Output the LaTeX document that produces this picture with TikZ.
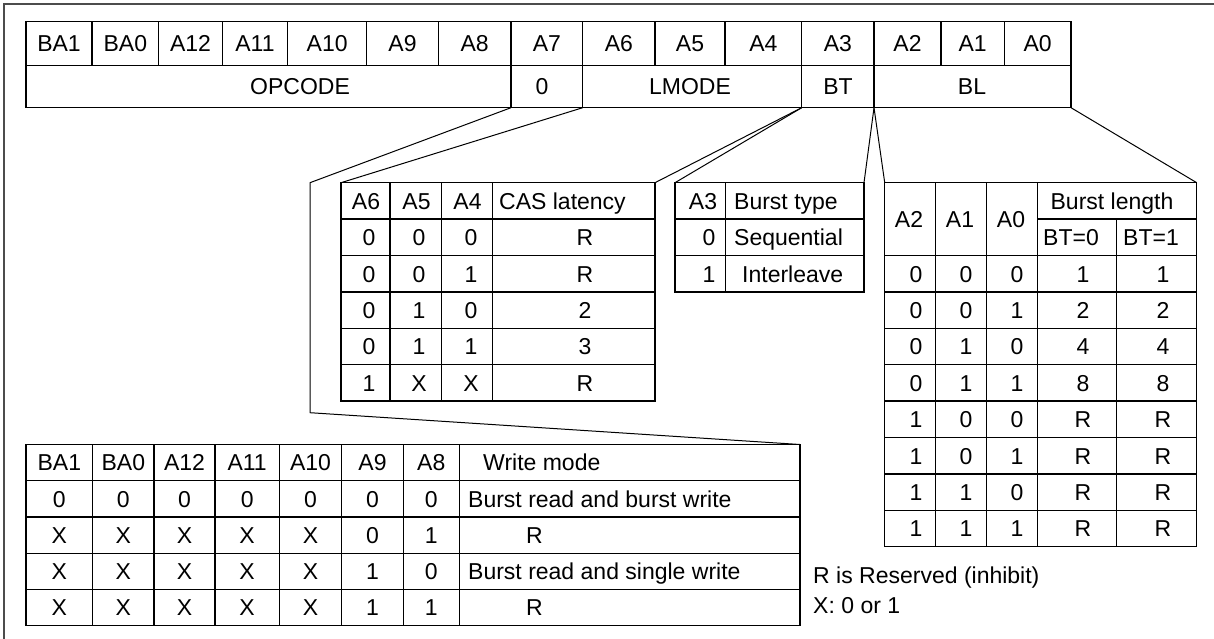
\documentclass[tikz,border=0pt]{standalone}
\usepackage{fontspec}
\setmainfont{Liberation Sans}
\begin{document}
\begin{tikzpicture}[x=1pt,y=-1pt,
  tl/.style={line width=1.3pt, black},
  conn/.style={line width=1pt, black},
  framel/.style={line width=1.1pt, black!70},
  txt/.style={anchor=base, inner sep=0pt, yshift=-8.3pt, font=\fontsize{23}{27}\selectfont},
  txtl/.style={txt, anchor=base west},
]
\useasboundingbox (0,0) rectangle (1214,639);
% outer frame (cropped at right and bottom)
\draw[framel] (4,639) -- (4,4) -- (1214,4);

% ---------------- register ----------------
\coordinate (reg-nw) at (26,21.7);
\coordinate (reg-se) at (1071,107.7);
\draw[tl] (reg-nw) rectangle (reg-se);
\draw[tl] (26,65.7) -- (1071,65.7);
\foreach \x in {92,158.7,222.3,287.7,366.7,438.3,511,582.7,655,725,801.7,874,941,1004.3}
  \draw[tl] (\x,21.7) -- (\x,65.7);
\foreach \x in {511,582.7,801.7,874}
  \draw[tl] (\x,65.7) -- (\x,107.7);
\foreach \xa/\xb/\t [count=\i] in {26/92/BA1,92/158.7/BA0,158.7/222.3/A12,222.3/287.7/A11,287.7/366.7/A10,366.7/438.3/A9,438.3/511/A8,511/582.7/A7,582.7/655/A6,655/725/A5,725/801.7/A4,801.7/874/A3,874/941/A2,941/1004.3/A1,1004.3/1071/A0}
  \node[txt] (bit\i) at ({(\xa+\xb)/2},43.7) {\t};
\node[txt] (opcode) at (300,86.7) {OPCODE};
\node[txt] (zero) at (542,86.7) {0};
\node[txt] (lmode) at (690,86.7) {LMODE};
\node[txt] (bt) at (838,86.7) {BT};
\node[txt] (bl) at (972,86.7) {BL};
\coordinate (op-se) at (511,107.7);
\coordinate (lm-sw) at (582.7,107.7);
\coordinate (lm-se) at (801.7,107.7);
\coordinate (bl-sw) at (874,107.7);
\coordinate (bl-se) at (1071,107.7);

% ---------------- CAS latency table ----------------
\coordinate (cas-nw) at (341,182.7);
\coordinate (cas-ne) at (655,182.7);
\draw[tl] (cas-nw) rectangle (655,401.1);
\foreach \k in {1,...,5} \draw[tl] (341,{182.7+36.4*\k}) -- (655,{182.7+36.4*\k});
\foreach \x in {390,441.7,492.7} \draw[tl] (\x,182.7) -- (\x,401.1);
\node[txt] (cash1) at (366,200.9) {A6};
\node[txt] (cash2) at (416.5,200.9) {A5};
\node[txt] (cash3) at (467.5,200.9) {A4};
\node[txtl] (cash4) at (499,200.9) {CAS latency};
\foreach \a/\b/\c/\v [count=\k] in {0/0/0/R,0/0/1/R,0/1/0/2,0/1/1/3,1/X/X/R} {
  \pgfmathsetmacro\yy{182.7+36.4*(\k+0.5)}
  \node[txt] (casa\k) at (369,\yy) {\a};
  \node[txt] (casb\k) at (419,\yy) {\b};
  \node[txt] (casc\k) at (471,\yy) {\c};
  \node[txt] (casv\k) at (585,\yy) {\v};
}

% ---------------- Burst type table ----------------
\coordinate (bty-nw) at (675,182.7);
\coordinate (bty-ne) at (864,182.7);
\draw[tl] (bty-nw) rectangle (864,291.9);
\foreach \k in {1,2} \draw[tl] (675,{182.7+36.4*\k}) -- (864,{182.7+36.4*\k});
\draw[tl] (725.7,182.7) -- (725.7,291.9);
\node[txt] (btyh1) at (703,200.9) {A3};
\node[txtl] (btyh2) at (734,200.9) {Burst type};
\node[txt] (btya1) at (709,237.3) {0};
\node[txtl] (btyv1) at (734,237.3) {Sequential};
\node[txt] (btya2) at (709,273.7) {1};
\node[txtl] (btyv2) at (742,273.7) {Interleave};

% ---------------- Burst length table ----------------
\coordinate (bln-nw) at (884.7,182.7);
\coordinate (bln-ne) at (1196.7,182.7);
\draw[tl] (bln-nw) rectangle (1196.7,546.7);
\draw[tl] (1037.7,219.1) -- (1196.7,219.1);
\foreach \k in {0,...,7} \draw[tl] (884.7,{255.5+36.4*\k}) -- (1196.7,{255.5+36.4*\k});
\foreach \x in {935.3,986.7,1037.7} \draw[tl] (\x,182.7) -- (\x,546.7);
\draw[tl] (1116.7,219.1) -- (1116.7,546.7);
\node[txt] (blnh1) at (909,219.1) {A2};
\node[txt] (blnh2) at (960,219.1) {A1};
\node[txt] (blnh3) at (1011,219.1) {A0};
\node[txt] (blnh4) at (1112,200.9) {Burst length};
\node[txt] (blnh5) at (1071,237.3) {BT=0};
\node[txt] (blnh6) at (1151,237.3) {BT=1};
\foreach \a/\b/\c/\u/\v [count=\k] in {0/0/0/1/1,0/0/1/2/2,0/1/0/4/4,0/1/1/8/8,1/0/0/R/R,1/0/1/R/R,1/1/0/R/R,1/1/1/R/R} {
  \pgfmathsetmacro\yy{255.5+36.4*(\k-0.5)}
  \node[txt] (blna\k) at (916,\yy) {\a};
  \node[txt] (blnb\k) at (966,\yy) {\b};
  \node[txt] (blnc\k) at (1017,\yy) {\c};
  \node[txt] (blnu\k) at (1083,\yy) {\u};
  \node[txt] (blnv\k) at (1163,\yy) {\v};
}

% ---------------- Write mode table ----------------
\coordinate (wm-nw) at (26,444.5);
\coordinate (wm-ne) at (800,444.5);
\draw[tl] (wm-nw) rectangle (800,625.75);
\foreach \k in {1,...,4} \draw[tl] (26,{444.5+36.25*\k}) -- (800,{444.5+36.25*\k});
\foreach \x in {92.7,154,215,279.3,341.7,403.3,459.3} \draw[tl] (\x,444.5) -- (\x,625.75);
\foreach \t/\x [count=\j] in {BA1/59.35,BA0/123.35,A12/184.5,A11/247.15,A10/310.5,A9/372.5,A8/431.3}
  \node[txt] (wmh\j) at (\x,462.6) {\t};
\node[txtl] (wmh8) at (483,462.6) {Write mode};
\foreach \a/\b/\c/\d/\e/\f/\g/\m/\mx [count=\k] in {0/0/0/0/0/0/0/Burst read and burst write/468,X/X/X/X/X/0/1/R/526,X/X/X/X/X/1/0/Burst read and single write/468,X/X/X/X/X/1/1/R/526} {
  \pgfmathsetmacro\yy{444.5+36.25*(\k+0.5)}
  \node[txt] (wma\k) at (59.35,\yy) {\a};
  \node[txt] (wmb\k) at (123.35,\yy) {\b};
  \node[txt] (wmc\k) at (184.5,\yy) {\c};
  \node[txt] (wmd\k) at (247.15,\yy) {\d};
  \node[txt] (wme\k) at (310.5,\yy) {\e};
  \node[txt] (wmf\k) at (372.5,\yy) {\f};
  \node[txt] (wmg\k) at (431.3,\yy) {\g};
  \node[txtl] (wmm\k) at (\mx,\yy) {\m};
}

% ---------------- connectors ----------------
\coordinate (bend1) at (310,182.7);
\coordinate (bend2) at (310,412.7);
\draw[conn] (op-se) -- (bend1) -- (bend2) -- (wm-ne);
\draw[conn] (lm-sw) -- (cas-nw);
\draw[conn] (lm-se) -- (cas-ne);
\draw[conn] (lm-se) -- (bty-nw);
\draw[conn] (bl-sw) -- (bty-ne);
\draw[conn] (bl-sw) -- (bln-nw);
\draw[conn] (bl-se) -- (bln-ne);

% ---------------- notes ----------------
\node[txtl] (note1) at (813,575) {R is Reserved (inhibit)};
\node[txtl] (note2) at (813,605) {X: 0 or 1};
\end{tikzpicture}
\end{document}
